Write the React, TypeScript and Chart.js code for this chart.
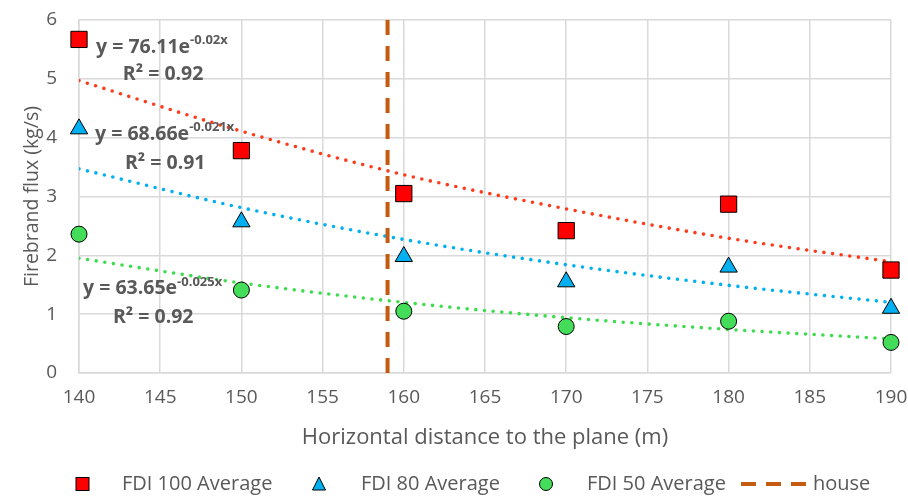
import { useEffect, useRef } from "react";
import { Chart, registerables } from "chart.js";

Chart.register(...registerables);

// ---- data ----
const distances = [140, 150, 160, 170, 180, 190];
const fdi100 = [5.67, 3.78, 3.05, 2.42, 2.87, 1.75];
const fdi80 = [4.15, 2.57, 1.98, 1.55, 1.8, 1.1];
const fdi50 = [2.36, 1.41, 1.05, 0.79, 0.88, 0.52];
// trendline values at each distance
const trend100 = [4.97, 4.11, 3.37, 2.79, 2.29, 1.89];
const trend80 = [3.47, 2.81, 2.27, 1.84, 1.49, 1.2];
const trend50 = [1.95, 1.53, 1.2, 0.94, 0.74, 0.58];
const houseX = 159;
const houseY = [0, 6];
const seriesLabels = ["FDI 100 Average", "FDI 80 Average", "FDI 50 Average", "house"];
const eqCoef = ["76.11", "68.66", "63.65"];
const eqExp = ["-0.02x", "-0.021x", "-0.025x"];
const eqR2 = ["0.92", "0.91", "0.92"];
const xTitle = "Horizontal distance to the plane (m)";
const yTitle = "Firebrand flux (kg/s)";

const FONT = "'Open Sans', 'DejaVu Sans', sans-serif";
const TEXT = "#595959";
const GRID = "#d9d9d9";
const RED = "#ff0000";
const RED_T = "#ff3a1a";
const BLUE = "#00b0f0";
const GREEN = "#44dd5a";
const GREEN_T = "#3ddc4c";
const HOUSE = "#c55a11";

const pts = (ys: number[]) => distances.map((x, i) => ({ x, y: ys[i] }));

// label anchors in data coordinates
const eqAnchors = [
  { x: 141.05, y: 5.53, rx: 142.7, ry: 5.07 },
  { x: 140.99, y: 4.05, rx: 142.83, ry: 3.57 },
  { x: 140.25, y: 1.43, rx: 142.09, ry: 0.95 },
];

const equationPlugin = {
  id: "equations",
  afterDatasetsDraw(chart: any) {
    const { ctx, scales } = chart;
    const xs = scales.x;
    const ys = scales.y;
    ctx.save();
    ctx.fillStyle = TEXT;
    ctx.textBaseline = "middle";
    ctx.textAlign = "left";
    eqAnchors.forEach((a, i) => {
      const px = xs.getPixelForValue(a.x);
      const py = ys.getPixelForValue(a.y);
      ctx.font = `bold 19.5px ${FONT}`;
      const main = `y = ${eqCoef[i]}e`;
      ctx.fillText(main, px, py);
      const w = ctx.measureText(main).width;
      ctx.font = `bold 13px ${FONT}`;
      ctx.fillText(eqExp[i], px + w, py - 7);
      ctx.font = `bold 19.5px ${FONT}`;
      ctx.fillText(`R² = ${eqR2[i]}`, xs.getPixelForValue(a.rx), ys.getPixelForValue(a.ry));
    });
    ctx.restore();
  },
};

const legendPlugin = {
  id: "customLegend",
  afterDraw(chart: any) {
    const { ctx } = chart;
    const y = 484;
    ctx.save();
    ctx.font = `20px ${FONT}`;
    ctx.fillStyle = TEXT;
    ctx.textBaseline = "middle";
    ctx.textAlign = "left";
    // square
    ctx.lineWidth = 1;
    ctx.strokeStyle = "#000";
    ctx.fillStyle = RED;
    ctx.fillRect(76, y - 6.5, 13, 13);
    ctx.strokeRect(76, y - 6.5, 13, 13);
    ctx.fillStyle = TEXT;
    ctx.fillText(seriesLabels[0], 122, y);
    // triangle
    ctx.beginPath();
    ctx.moveTo(319, y - 7);
    ctx.lineTo(325.5, y + 6);
    ctx.lineTo(312.5, y + 6);
    ctx.closePath();
    ctx.fillStyle = BLUE;
    ctx.fill();
    ctx.stroke();
    ctx.fillStyle = TEXT;
    ctx.fillText(seriesLabels[1], 361, y);
    // circle
    ctx.beginPath();
    ctx.arc(546, y, 6.5, 0, Math.PI * 2);
    ctx.fillStyle = GREEN;
    ctx.fill();
    ctx.stroke();
    ctx.fillStyle = TEXT;
    ctx.fillText(seriesLabels[2], 587, y);
    // dashed line
    ctx.beginPath();
    ctx.setLineDash([15, 10]);
    ctx.strokeStyle = HOUSE;
    ctx.lineWidth = 4;
    ctx.moveTo(741, y);
    ctx.lineTo(806, y);
    ctx.stroke();
    ctx.setLineDash([]);
    ctx.fillStyle = TEXT;
    ctx.fillText(seriesLabels[3], 813, y);
    ctx.restore();
  },
};

export default function App() {
  const ref = useRef<HTMLCanvasElement | null>(null);
  useEffect(() => {
    document.body.style.margin = "0";
    if (!ref.current) return;
    const trendCommon = {
      type: "line" as const,
      showLine: true,
      pointRadius: 0,
      borderWidth: 3.6,
      borderCapStyle: "round" as const,
      borderDash: [0, 8.7],
      cubicInterpolationMode: "monotone" as const,
      fill: false,
      order: 3,
    };
    const markerCommon = {
      borderColor: "#000",
      borderWidth: 1,
      order: 0,
      clip: false,
    };
    const chart = new Chart(ref.current, {
      type: "scatter",
      data: {
        datasets: [
          {
            ...markerCommon,
            label: seriesLabels[0],
            data: pts(fdi100),
            pointStyle: "rect",
            pointRadius: 11.5,
            backgroundColor: RED,
          },
          {
            ...markerCommon,
            label: seriesLabels[1],
            data: pts(fdi80),
            pointStyle: "triangle",
            pointRadius: 10,
            backgroundColor: BLUE,
          },
          {
            ...markerCommon,
            label: seriesLabels[2],
            data: pts(fdi50),
            pointStyle: "circle",
            pointRadius: 8,
            backgroundColor: GREEN,
          },
          {
            label: seriesLabels[3],
            type: "line",
            data: houseY.map((y) => ({ x: houseX, y })),
            showLine: true,
            pointRadius: 0,
            borderColor: HOUSE,
            borderWidth: 4,
            borderDash: [15, 11],
            order: 1,
          },
          { ...trendCommon, label: "trend100", data: pts(trend100), borderColor: RED_T },
          { ...trendCommon, label: "trend80", data: pts(trend80), borderColor: BLUE },
          { ...trendCommon, label: "trend50", data: pts(trend50), borderColor: GREEN_T },
        ] as any,
      },
      options: {
        animation: false,
        responsive: false,
        maintainAspectRatio: false,
        layout: { padding: { left: 17, right: 17, top: 20, bottom: 41 } },
        plugins: { legend: { display: false }, tooltip: { enabled: false } },
        scales: {
          x: {
            type: "linear",
            min: 140,
            max: 190,
            ticks: { stepSize: 5, color: TEXT, font: { family: FONT, size: 19 }, padding: 13 },
            grid: { color: GRID, lineWidth: 1.5, drawTicks: false },
            border: { color: GRID, width: 1.5 },
            title: { display: true, text: xTitle, color: TEXT, font: { family: FONT, size: 22 } },
            afterFit: (s: any) => {
              s.height = 82;
              s.paddingLeft = 0;
              s.paddingRight = 0;
            },
          },
          y: {
            type: "linear",
            min: 0,
            max: 6,
            ticks: { stepSize: 1, color: TEXT, font: { family: FONT, size: 19 }, padding: 22 },
            grid: { color: GRID, lineWidth: 1.5, drawTicks: false },
            border: { color: GRID, width: 1.5 },
            title: { display: true, text: yTitle, color: TEXT, font: { family: FONT, size: 19.5 } },
            afterFit: (s: any) => {
              s.width = 62;
              s.paddingTop = 0;
              s.paddingBottom = 0;
            },
          },
        },
      },
      plugins: [equationPlugin, legendPlugin],
    });
    return () => chart.destroy();
  }, []);
  return (
    <div style={{ width: 908, height: 496 }}>
      <canvas ref={ref} width={908} height={496} style={{ display: "block" }} />
    </div>
  );
}
